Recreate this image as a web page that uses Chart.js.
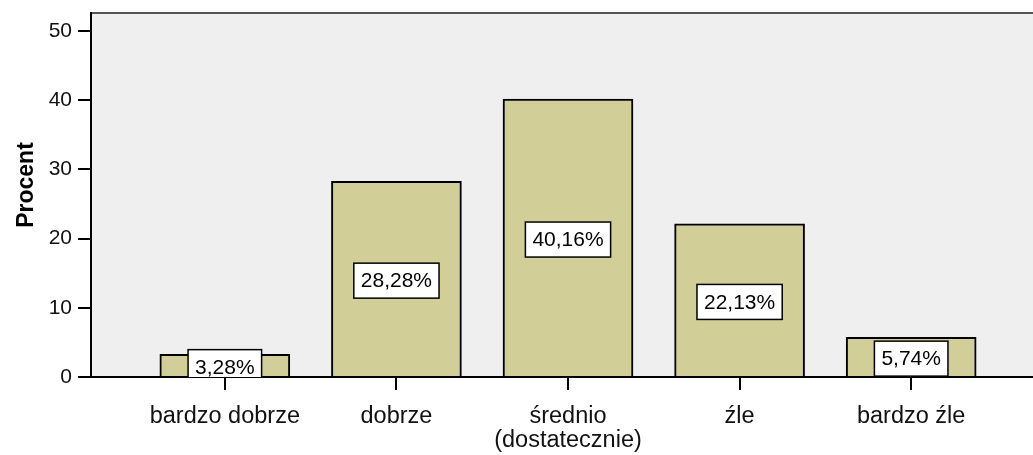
<!DOCTYPE html>
<html>
<head>
<meta charset="utf-8">
<script src="https://cdn.jsdelivr.net/npm/chart.js@4"></script>
<style>
  html, body { margin: 0; padding: 0; background: #fff; }
  #wrap { width: 1033px; height: 455px; }
</style>
</head>
<body>
<div id="wrap"><canvas id="chart"></canvas></div>
<script>
// data
const categories = ['bardzo dobrze', 'dobrze', 'średnio\n(dostatecznie)', 'źle', 'bardzo źle'];
const percents = [3.28, 28.28, 40.16, 22.13, 5.74];
const yTicks = [0, 10, 20, 30, 40, 50];
const yTitle = 'Procent';

const FONT = "'Liberation Sans', Arial, sans-serif";

// grey plot background + thin top border + rotated y title
const plotBg = {
  id: 'plotBg',
  beforeDraw(chart) {
    const { ctx, chartArea: a } = chart;
    ctx.save();
    ctx.fillStyle = '#efefef';
    ctx.fillRect(a.left, a.top, a.right - a.left, a.bottom - a.top);
    ctx.strokeStyle = '#555';
    ctx.lineWidth = 2;
    ctx.beginPath();
    ctx.moveTo(a.left, a.top);
    ctx.lineTo(a.right, a.top);
    ctx.stroke();
    // axis title
    ctx.translate(27, 185);
    ctx.rotate(-Math.PI / 2);
    ctx.font = 'bold 23px ' + FONT;
    ctx.fillStyle = '#000';
    ctx.textAlign = 'center';
    ctx.textBaseline = 'middle';
    ctx.fillText(yTitle, 0, 0);
    ctx.restore();
  }
};

// white boxed percentage labels in the middle of each bar
const boxLabels = {
  id: 'boxLabels',
  afterDatasetsDraw(chart) {
    const { ctx, chartArea: a } = chart;
    const meta = chart.getDatasetMeta(0);
    ctx.save();
    ctx.beginPath();
    ctx.rect(a.left, a.top, a.right - a.left, a.bottom - a.top);
    ctx.clip();
    ctx.font = '21px ' + FONT;
    ctx.textAlign = 'center';
    ctx.textBaseline = 'middle';
    meta.data.forEach((bar, i) => {
      const txt = percents[i].toFixed(2).replace('.', ',') + '%';
      const w = ctx.measureText(txt).width + 14;
      const h = 35;
      const cx = bar.x;
      const cy = (bar.y + bar.base) / 2 + 2;
      ctx.fillStyle = '#fff';
      ctx.fillRect(cx - w / 2, cy - h / 2, w, h);
      ctx.strokeStyle = '#000';
      ctx.lineWidth = 1.5;
      ctx.strokeRect(cx - w / 2, cy - h / 2, w, h);
      ctx.fillStyle = '#000';
      ctx.fillText(txt, cx, cy + 1);
    });
    ctx.restore();
  }
};

new Chart(document.getElementById('chart'), {
  type: 'bar',
  data: {
    datasets: [{
      data: percents.map((v, i) => ({ x: i, y: v })),
      backgroundColor: '#d2ce98',
      borderColor: '#000',
      borderWidth: 2,
      barThickness: 130
    }]
  },
  options: {
    responsive: true,
    maintainAspectRatio: false,
    animation: false,
    layout: { padding: { top: 13, right: 0, bottom: 0, left: 0 } },
    plugins: { legend: { display: false }, tooltip: { enabled: false } },
    scales: {
      x: {
        type: 'linear',
        offset: false,
        min: -0.78,
        max: 4.71,
        afterBuildTicks: s => { s.ticks = categories.map((c, i) => ({ value: i })); },
        afterFit: s => { s.height = 78; s.paddingLeft = 0; s.paddingRight = 0; },
        border: { color: '#000', width: 2 },
        grid: { offset: false, drawOnChartArea: false, tickLength: 13, color: '#000', lineWidth: 2 },
        ticks: {
          autoSkip: false,
          maxRotation: 0,
          padding: 14,
          color: '#111',
          font: { family: FONT, size: 23.5, lineHeight: 1.05 },
          callback: v => categories[v] !== undefined ? categories[v].split('\n') : ''
        }
      },
      y: {
        min: 0,
        max: 52.6,
        afterBuildTicks: s => { s.ticks = yTicks.map(v => ({ value: v })); },
        afterFit: s => { s.width = 91; s.paddingTop = 0; s.paddingBottom = 0; },
        border: { color: '#000', width: 2 },
        grid: { drawOnChartArea: false, tickLength: 13, color: '#000', lineWidth: 2 },
        ticks: {
          padding: 6,
          color: '#111',
          font: { family: FONT, size: 21 }
        }
      }
    }
  },
  plugins: [plotBg, boxLabels]
});
</script>
</body>
</html>
